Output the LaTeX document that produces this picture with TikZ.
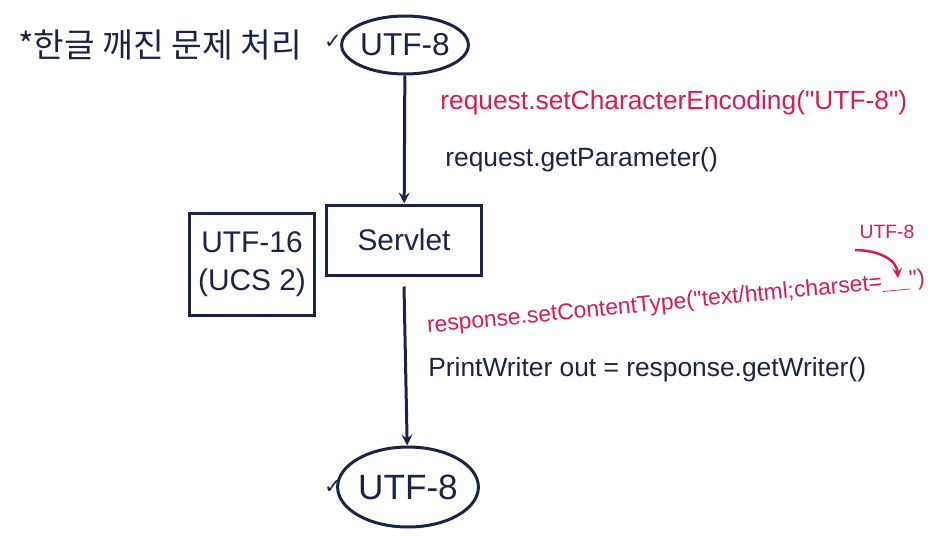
\documentclass[tikz,border=0pt]{standalone}
\usepackage{fontspec}
\usetikzlibrary{shapes.geometric}
\setmainfont{Liberation Sans}
\newfontfamily\krfont{Noto Sans CJK KR}
\newfontfamily\symfont{DejaVu Sans}
\definecolor{inkblue}{RGB}{27,36,72}
\definecolor{inkred}{RGB}{216,27,80}
\tikzset{
	ink/.style={line width = 0.6mm, draw=inkblue},
	codeline/.style={anchor=west, inner sep=0pt, font=\fontsize{15}{17}\selectfont},
	tick/.style={text=inkblue, font=\symfont\fontsize{12}{13}\selectfont}
}
\begin{document}
\begin{tikzpicture}[x=0.02cm, y=-0.02cm]
		\useasboundingbox (0,0) rectangle (949,535);
		
		% title
		\node[anchor=west, text=inkblue, font=\krfont\fontsize{19}{22}\selectfont] (title) at (12,45) {*한글 깨진 문제 처리};
		\node[tick] (tick1) at (333,42) {✓};
		
		% encodings
		\node[ink, ellipse, minimum width=2.4cm, minimum height=1.16cm, inner sep=0pt, text=inkblue, font=\fontsize{18}{22}\selectfont] (top) at (405,45) {UTF-8};
		\node[ink, minimum width=3.12cm, minimum height=1.4cm, text=inkblue, font=\fontsize{17}{20}\selectfont] (servlet) at (404,240) {Servlet};
		\node[ink, minimum width=2.5cm, minimum height=2.04cm, align=center, text=inkblue, font=\fontsize{17}{22}\selectfont] (ucs) at (252,264) {UTF-16\\(UCS 2)};
		\node[ink, ellipse, minimum width=2.6cm, minimum height=1.6cm, inner sep=0pt, text=inkblue, font=\fontsize{20}{24}\selectfont] (bottom) at (408,487) {UTF-8};
		\node[tick] (tick2) at (333,487) {✓};
		
		\draw[ink, ->, >=stealth] (top) -- (servlet);
		\draw[ink, ->, >=stealth] (servlet.south) ++(0,10) coordinate (out) -- (bottom);
		
		% request side
		\node[codeline, text=inkred] (setenc) at (440,103) {request.setCharacterEncoding(\textquotedbl UTF-8\textquotedbl)};
		\node[codeline, text=inkblue] (getpar) at (445,160) {request.getParameter()};
		
		% response side
		\node[codeline, text=inkred, rotate=5.5, anchor=south west, font=\fontsize{13}{15}\selectfont] (settype) at (428,338) {response.setContentType(\textquotedbl text/html;charset=\underline{\hspace{1.2em}}\textquotedbl)};
		\node[codeline, text=inkblue] (writer) at (428,370) {PrintWriter out = response.getWriter()};
		\node[text=inkred, font=\fontsize{11}{12}\selectfont, inner sep=0pt] (charset) at (887,232) {UTF-8};
		\draw[line width = 0.5mm, draw=inkred, ->, >=stealth] (855,250) to[out=0, in=95] (898,278);
		
	\end{tikzpicture}
\end{document}
